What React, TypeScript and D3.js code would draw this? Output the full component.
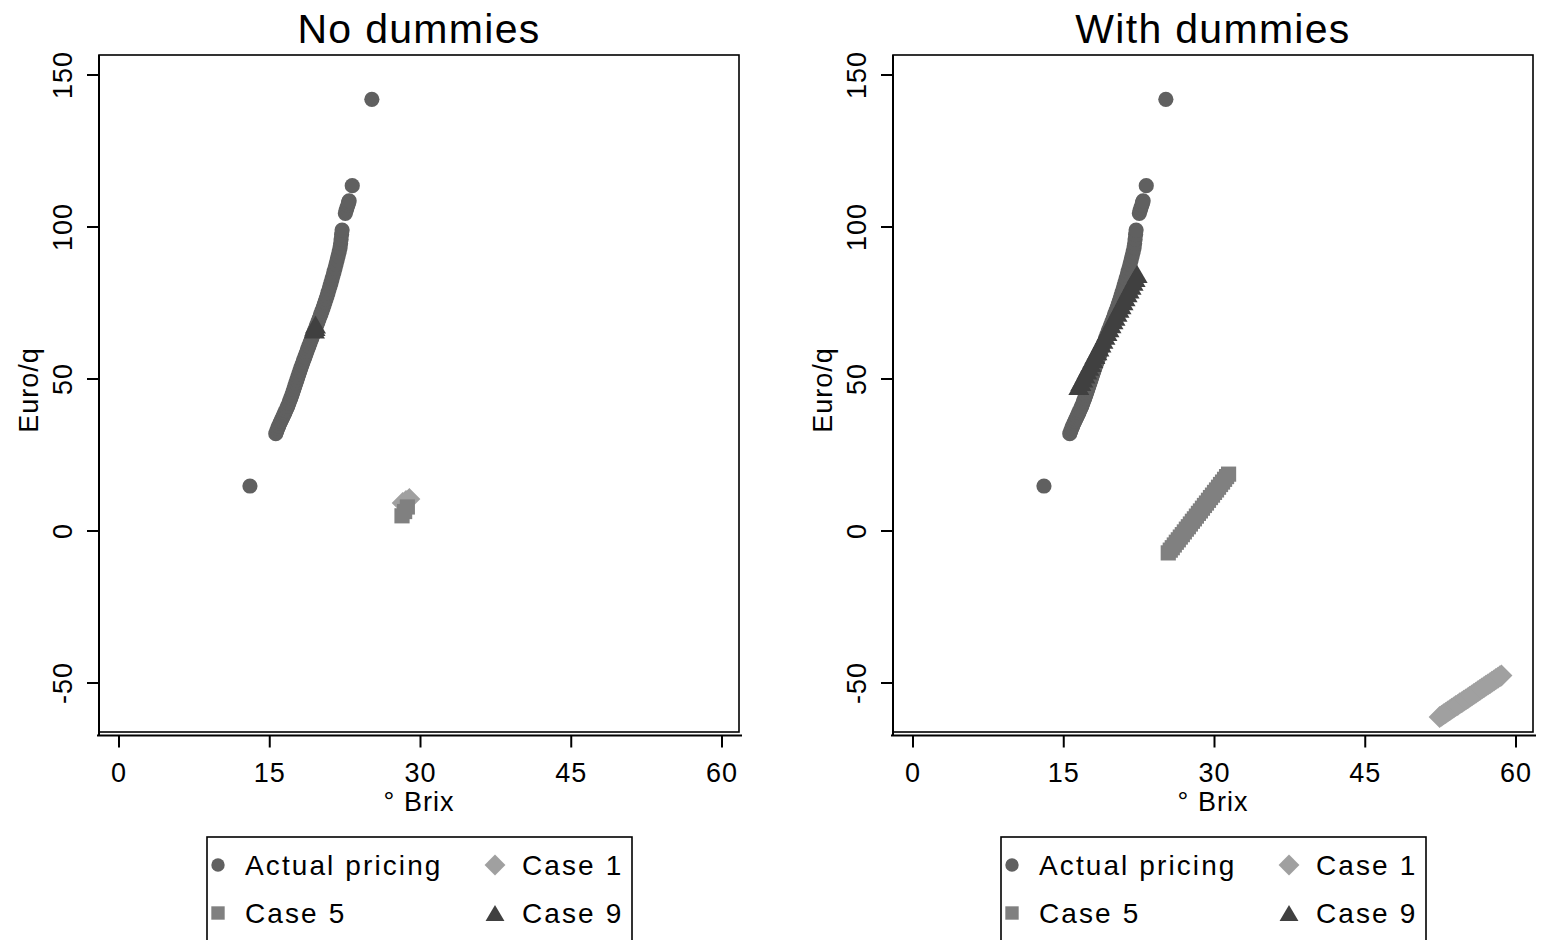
import React from "react";
import * as d3 from "d3";

// Axis ticks
const xTicks = [0, 15, 30, 45, 60];
const yTicks = [-50, 0, 50, 100, 150];

// Actual pricing: degrees Brix and Euro/q (same observations in both panels)
const actualBrix = [
  15.6, 15.7, 15.8, 15.9, 16.0, 16.1, 16.2, 16.3, 16.4, 16.5, 16.6, 16.7, 16.8, 16.9,
  17.0, 17.1, 17.2, 17.3, 17.4, 17.5, 17.6, 17.7, 17.8, 17.9, 18.0, 18.1, 18.2, 18.3,
  18.4, 18.5, 18.6, 18.7, 18.8, 18.9, 19.0, 19.1, 19.2, 19.3, 19.4, 19.5, 19.6, 19.7,
  19.8, 19.9, 20.0, 20.1, 20.2, 20.3, 20.4, 20.5, 20.6, 20.7, 20.8, 20.9, 21.0, 21.1,
  21.2, 21.3, 21.4, 21.5, 21.6, 21.7, 21.8, 21.9, 22.0, 22.05, 22.1, 22.15, 22.2,
  22.52, 22.6, 22.68, 22.76, 22.84, 22.9,
  23.21, 25.16, 13.03,
];
const actualPrice = [
  32.0, 32.9, 33.8, 34.6, 35.4, 36.1, 36.8, 37.5, 38.2, 38.9, 39.6, 40.4, 41.2, 42.0,
  42.9, 43.8, 44.7, 45.7, 46.7, 47.7, 48.7, 49.7, 50.7, 51.7, 52.7, 53.7, 54.6, 55.5,
  56.4, 57.3, 58.2, 59.1, 60.0, 60.9, 61.8, 62.7, 63.6, 64.5, 65.4, 66.2, 67.1, 67.9,
  68.8, 69.7, 70.6, 71.5, 72.4, 73.3, 74.3, 75.3, 76.3, 77.3, 78.4, 79.5, 80.6, 81.7,
  82.9, 84.1, 85.3, 86.5, 87.8, 89.1, 90.4, 91.8, 93.2, 94.6, 96.0, 97.5, 99.0,
  104.5, 105.4, 106.3, 107.1, 108.0, 108.6,
  113.6, 142.0, 14.8,
];

// "No dummies" scenarios
const noDumCase1Brix = [28.23, 28.56, 28.89];
const noDumCase1Price = [9.2, 9.9, 10.5];
const noDumCase5Brix = [28.16, 28.42, 28.69];
const noDumCase5Price = [5.0, 6.4, 7.9];
const noDumCase9Brix = [19.45, 19.5, 19.55];
const noDumCase9Price = [66.3, 67.1, 67.9];

// "With dummies" scenarios
const withDumCase1Brix = [
  52.4, 52.6, 52.8, 53.0, 53.2, 53.4, 53.6, 53.8, 54.0, 54.2, 54.4, 54.6, 54.8, 55.0,
  55.2, 55.4, 55.6, 55.8, 56.0, 56.2, 56.4, 56.6, 56.8, 57.0, 57.2, 57.4, 57.6, 57.8,
  58.0, 58.2, 58.4, 58.55,
];
const withDumCase1Price = [
  -61.2, -60.8, -60.3, -59.9, -59.4, -59.0, -58.5, -58.1, -57.6, -57.2, -56.7, -56.3,
  -55.8, -55.4, -55.0, -54.5, -54.1, -53.6, -53.2, -52.7, -52.3, -51.8, -51.4, -50.9,
  -50.5, -50.1, -49.6, -49.2, -48.7, -48.3, -47.8, -47.5,
];
const withDumCase5Brix = [
  25.4, 25.6, 25.8, 26.0, 26.2, 26.4, 26.6, 26.8, 27.0, 27.2, 27.4, 27.6, 27.8, 28.0,
  28.2, 28.4, 28.6, 28.8, 29.0, 29.2, 29.4, 29.6, 29.8, 30.0, 30.2, 30.4, 30.6, 30.8,
  31.0, 31.2, 31.4,
];
const withDumCase5Price = [
  -7.2, -6.3, -5.5, -4.6, -3.7, -2.9, -2.0, -1.2, -0.3, 0.6, 1.4, 2.3, 3.2, 4.0, 4.9,
  5.8, 6.6, 7.5, 8.4, 9.2, 10.1, 11.0, 11.8, 12.7, 13.5, 14.4, 15.3, 16.1, 17.0, 17.9,
  18.7,
];
const withDumCase9Brix = [
  16.5, 16.7, 16.9, 17.1, 17.3, 17.5, 17.7, 17.9, 18.1, 18.3, 18.5, 18.7, 18.9, 19.1,
  19.3, 19.5, 19.7, 19.9, 20.1, 20.3, 20.5, 20.7, 20.9, 21.1, 21.3, 21.5, 21.7, 21.9,
  22.1, 22.3,
];
const withDumCase9Price = [
  47.7, 49.0, 50.2, 51.5, 52.8, 54.0, 55.3, 56.6, 57.9, 59.1, 60.4, 61.7, 62.9, 64.2,
  65.5, 66.7, 68.0, 69.3, 70.5, 71.8, 73.1, 74.3, 75.6, 76.9, 78.2, 79.4, 80.7, 82.0,
  83.2, 84.5,
];

const legendLabels = ["Actual pricing", "Case 1", "Case 5", "Case 9"];

const COLORS = {
  actual: "#606060",
  case1: "#a0a0a0",
  case5: "#808080",
  case9: "#404040",
};

const FONT = "'Liberation Sans', Arial, Helvetica, sans-serif";

type Kind = "circle" | "diamond" | "square" | "triangle";

function markerPath(kind: Kind, cx: number, cy: number, s = 1): string {
  const p = d3.path();
  if (kind === "circle") {
    const r = 7.6 * s;
    p.moveTo(cx + r, cy);
    p.arc(cx, cy, r, 0, Math.PI * 2);
  } else if (kind === "square") {
    const h = 7.6 * s;
    p.rect(cx - h, cy - h, 2 * h, 2 * h);
  } else if (kind === "diamond") {
    const h = 11 * s;
    p.moveTo(cx, cy - h);
    p.lineTo(cx + h, cy);
    p.lineTo(cx, cy + h);
    p.lineTo(cx - h, cy);
  } else {
    const w = 10.5 * s;
    const hh = 9 * s;
    p.moveTo(cx, cy - hh);
    p.lineTo(cx + w, cy + hh);
    p.lineTo(cx - w, cy + hh);
  }
  p.closePath();
  return p.toString();
}

type Series = { xs: number[]; ys: number[] };

type PanelProps = {
  dx: number;
  title: string;
  case1: Series;
  case5: Series;
  case9: Series;
};

function Panel({ dx, title, case1, case5, case9 }: PanelProps) {
  const x = d3.scaleLinear().domain([0, 60]).range([119 + dx, 722 + dx]);
  const y = d3.scaleLinear().domain([-50, 150]).range([683, 75]);
  const left = 99 + dx;
  const right = 739 + dx;
  const top = 55;
  const bottom = 732;
  const axisY = 735.5;

  const layer = (s: Series, kind: Kind, color: string) => (
    <g fill={color}>
      {s.xs.map((v, i) => (
        <path key={i} d={markerPath(kind, x(v), y(s.ys[i]))} />
      ))}
    </g>
  );

  const cx = (left + right) / 2;
  const legX = 207 + dx;
  const legendItems: { kind: Kind; color: string; label: string; lx: number; ly: number; s: number }[] = [
    { kind: "circle", color: COLORS.actual, label: legendLabels[0], lx: 0, ly: 0, s: 0.88 },
    { kind: "diamond", color: COLORS.case1, label: legendLabels[1], lx: 277, ly: 0, s: 0.95 },
    { kind: "square", color: COLORS.case5, label: legendLabels[2], lx: 0, ly: 48, s: 0.88 },
    { kind: "triangle", color: COLORS.case9, label: legendLabels[3], lx: 277, ly: 48, s: 0.9 },
  ];

  return (
    <g fontFamily={FONT}>
      <text x={cx} y={43} textAnchor="middle" fontSize={41} letterSpacing={1.3}>
        {title}
      </text>
      <rect x={left} y={top} width={right - left} height={bottom - top} fill="none" stroke="#000" strokeWidth={1.6} />
      <clipPath id={`clip${dx}`}>
        <rect x={left} y={top} width={right - left} height={bottom - top} />
      </clipPath>
      <g clipPath={`url(#clip${dx})`}>
        {layer({ xs: actualBrix, ys: actualPrice }, "circle", COLORS.actual)}
        {layer(case1, "diamond", COLORS.case1)}
        {layer(case5, "square", COLORS.case5)}
        {layer(case9, "triangle", COLORS.case9)}
      </g>
      {/* y axis */}
      <line x1={left} x2={left} y1={top} y2={axisY} stroke="#000" strokeWidth={2} />
      {yTicks.map((t) => (
        <g key={t}>
          <line x1={left - 12} x2={left} y1={y(t)} y2={y(t)} stroke="#000" strokeWidth={2} />
          <text
            transform={`translate(${left - 27},${y(t)}) rotate(-90)`}
            textAnchor="middle"
            fontSize={27}
            letterSpacing={1}
          >
            {t}
          </text>
        </g>
      ))}
      <text transform={`translate(${left - 61},${390}) rotate(-90)`} textAnchor="middle" fontSize={27} letterSpacing={1}>
        Euro/q
      </text>
      {/* x axis */}
      <line x1={left - 2} x2={right + 3} y1={axisY} y2={axisY} stroke="#000" strokeWidth={2} />
      {xTicks.map((t) => (
        <g key={t}>
          <line x1={x(t)} x2={x(t)} y1={axisY} y2={axisY + 12} stroke="#000" strokeWidth={2} />
          <text x={x(t)} y={782} textAnchor="middle" fontSize={27} letterSpacing={1}>
            {t}
          </text>
        </g>
      ))}
      <text x={cx} y={811} textAnchor="middle" fontSize={27} letterSpacing={1}>
        ° Brix
      </text>
      {/* legend */}
      <rect x={legX} y={837} width={425} height={120} fill="none" stroke="#000" strokeWidth={1.6} />
      {legendItems.map((it) => (
        <g key={it.label}>
          <path d={markerPath(it.kind, legX + 11 + it.lx, 865 + it.ly, it.s)} fill={it.color} />
          <text x={legX + 38 + it.lx} y={875 + it.ly} fontSize={28} letterSpacing={2.1}>
            {it.label}
          </text>
        </g>
      ))}
    </g>
  );
}

export default function App() {
  return (
    <svg
      width={1542}
      height={940}
      viewBox="0 0 1542 940"
      style={{ position: "absolute", left: 0, top: 0, background: "#fff" }}
    >
      <rect width={1542} height={940} fill="#fff" />
      <Panel
        dx={0}
        title="No dummies"
        case1={{ xs: noDumCase1Brix, ys: noDumCase1Price }}
        case5={{ xs: noDumCase5Brix, ys: noDumCase5Price }}
        case9={{ xs: noDumCase9Brix, ys: noDumCase9Price }}
      />
      <Panel
        dx={794}
        title="With dummies"
        case1={{ xs: withDumCase1Brix, ys: withDumCase1Price }}
        case5={{ xs: withDumCase5Brix, ys: withDumCase5Price }}
        case9={{ xs: withDumCase9Brix, ys: withDumCase9Price }}
      />
    </svg>
  );
}
